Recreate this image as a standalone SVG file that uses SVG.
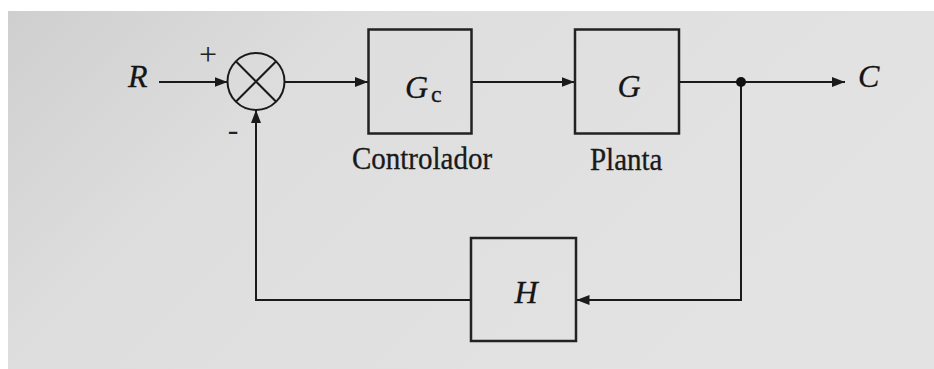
<svg xmlns="http://www.w3.org/2000/svg" width="934" height="369" viewBox="0 0 934 369">
<style>
.bg{fill:url(#bgGrad)}
.box{fill:none;stroke:#222;stroke-width:2.5}
.ln{fill:none;stroke:#1a1a1a;stroke-width:2}
.var{font-family:'Liberation Serif','DejaVu Serif',serif;font-style:italic;font-size:32px;fill:#151515;stroke:#151515;stroke-width:0.3}
.lbl{font-family:'Liberation Serif','DejaVu Serif',serif;font-size:29px;fill:#1a1a1a;stroke:#1a1a1a;stroke-width:0.3}
.sgn{font-family:'Liberation Serif','DejaVu Serif',serif;font-size:32px;fill:#222}
</style>
<defs>
<linearGradient id="bgGrad" x1="0" y1="0" x2="1" y2="0.4">
<stop offset="0" stop-color="#cfcfcf"/>
<stop offset="0.35" stop-color="#dedede"/>
<stop offset="1" stop-color="#e3e3e3"/>
</linearGradient>
<marker id="arr" markerUnits="userSpaceOnUse" markerWidth="14" markerHeight="11" refX="13" refY="5" orient="auto">
<path d="M0,0 L13,5 L0,10 z" fill="#1a1a1a"/>
</marker>
</defs>
<rect x="0" y="0" width="934" height="369" fill="#ffffff"/>
<rect class="bg" x="8" y="11" width="926" height="358"/>

<g id="connectors">
<path class="ln" d="M159,82 H227.5" marker-end="url(#arr)"/>
<path class="ln" d="M285,82 H368" marker-end="url(#arr)"/>
<path class="ln" d="M472,82 H574.5" marker-end="url(#arr)"/>
<path class="ln" d="M679,82 H845" marker-end="url(#arr)"/>
<path class="ln" d="M741,82 V300 H576.5" marker-end="url(#arr)"/>
<path class="ln" d="M471,300 H256 V110" marker-end="url(#arr)"/>
<circle cx="741" cy="82" r="5" fill="#111"/>
</g>

<g id="input-R"><text class="var" x="128" y="87">R</text></g>
<g id="output-C"><text class="var" x="858" y="87">C</text></g>

<g id="summer">
<circle cx="256" cy="81.5" r="28.5" fill="none" stroke="#1a1a1a" stroke-width="2"/>
<path class="ln" d="M235.8,61.3 L276.2,101.7 M276.2,61.3 L235.8,101.7"/>
<text class="sgn" x="208" y="65" text-anchor="middle">+</text>
<text class="sgn" x="233" y="140" text-anchor="middle">-</text>
</g>

<g id="controller">
<rect class="box" x="368.5" y="29.5" width="103" height="104"/>
<text class="var" x="405" y="98">G</text>
<text class="lbl" x="431" y="102" style="font-size:24px">c</text>
<text class="lbl" x="352" y="169" transform="translate(0,169) scale(1,1.08) translate(0,-169)">Controlador</text>
</g>

<g id="plant">
<rect class="box" x="575" y="29.5" width="104" height="104"/>
<text class="var" x="629" y="97" text-anchor="middle">G</text>
<text class="lbl" x="590" y="170" transform="translate(0,170) scale(1,1.08) translate(0,-170)">Planta</text>
</g>

<g id="feedback-H">
<rect class="box" x="471" y="238" width="105" height="103"/>
<text class="var" x="526" y="303" text-anchor="middle">H</text>
</g>
</svg>
